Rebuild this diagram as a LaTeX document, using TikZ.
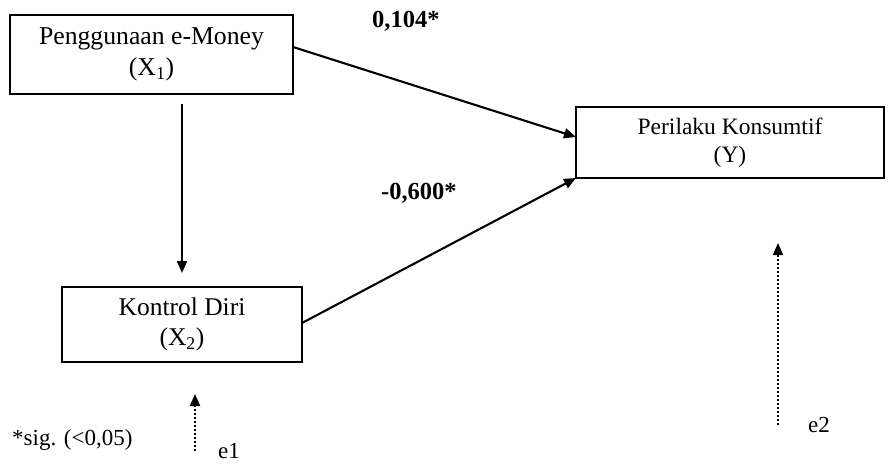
\documentclass[tikz,border=0pt]{standalone}
\usepackage{fontspec}
\setmainfont{Liberation Serif}
\usetikzlibrary{arrows.meta}
\begin{document}
\begin{tikzpicture}[x=1pt,y=-1pt,
  varbox/.style={draw,line width=1.4pt,rectangle,inner sep=0pt,align=center},
  arr/.style={line width=2.1pt,-{Triangle[length=12pt,width=10pt]}},
  errarr/.style={line width=2pt,dotted,-{Triangle[length=12pt,width=10pt]}},
  lbl/.style={inner sep=0pt,anchor=base west}]
\useasboundingbox (0,0) rectangle (890,463);
\node[varbox,minimum width=283pt,minimum height=79pt,font=\fontsize{25.7}{31}\selectfont] (x1) at (151.5,54.5) {Penggunaan e-Money\\(X\textsubscript{1})};
\node[varbox,minimum width=308pt,minimum height=71pt,font=\fontsize{23.5}{28}\selectfont] (y) at (730,142.5) {Perilaku Konsumtif\\(Y)};
\node[varbox,minimum width=240pt,minimum height=75pt,font=\fontsize{25.5}{30}\selectfont] (x2) at (182,324.5) {Kontrol Diri\\(X\textsubscript{2})};
\coordinate (x1b) at (182,104);
\coordinate (x2t) at (182,273);
\draw[arr] (x1b) -- (x2t);
\coordinate (x1r) at (293,47);
\coordinate (yl1) at (576,137);
\draw[arr] (x1r) -- (yl1);
\coordinate (x2r) at (302,323);
\coordinate (yl2) at (576,178);
\draw[arr] (x2r) -- (yl2);
\node[lbl,font=\bfseries\fontsize{24.5}{28}\selectfont] (c1) at (372,27) {0,104*};
\node[lbl,font=\bfseries\fontsize{24.5}{28}\selectfont] (c2) at (381,199) {-0,600*};
\coordinate (e1s) at (195,451);
\coordinate (e1t) at (195,394);
\draw[errarr] (e1s) -- (e1t);
\coordinate (e2s) at (778,425);
\coordinate (e2t) at (778,243);
\draw[errarr] (e2s) -- (e2t);
\node[lbl,font=\fontsize{23}{26}\selectfont] (e1) at (218,458) {e1};
\node[lbl,font=\fontsize{23}{26}\selectfont] (e2) at (808,432) {e2};
\node[lbl,font=\fontsize{23}{26}\selectfont] (sig) at (12,445) {*sig. (<0,05)};
\end{tikzpicture}
\end{document}
